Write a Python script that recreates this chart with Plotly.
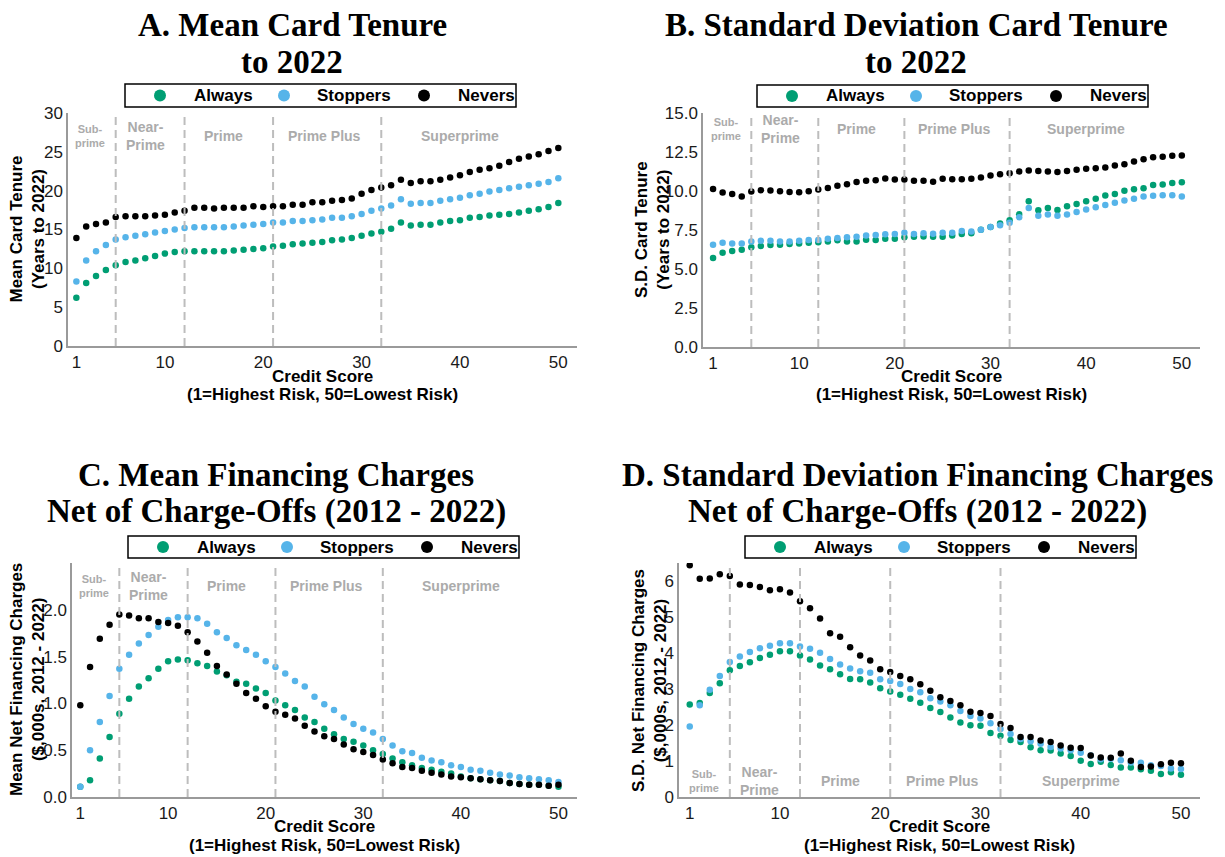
import plotly.graph_objects as go

# ---------------- data ----------------
credit_score = list(range(1, 51))
series_names = ["Always", "Stoppers", "Nevers"]
series_colors = ["#009E73", "#56B4E9", "#000000"]

mean_tenure_always = [6.2, 8.1, 9.0, 9.8, 10.4, 10.8, 11.0, 11.3, 11.6, 11.9,
                      12.1, 12.2, 12.2, 12.2, 12.2, 12.2, 12.3, 12.4, 12.5, 12.6,
                      12.8, 12.9, 13.1, 13.2, 13.3, 13.4, 13.6, 13.7, 13.9, 14.2,
                      14.5, 14.7, 15.1, 15.9, 15.5, 15.6, 15.6, 15.9, 16.1, 16.2,
                      16.5, 16.6, 16.8, 16.9, 17.0, 17.2, 17.4, 17.6, 17.9, 18.4]
mean_tenure_stoppers = [8.3, 11.0, 12.2, 13.0, 13.7, 14.0, 14.2, 14.4, 14.6, 14.8,
                        15.0, 15.2, 15.3, 15.3, 15.3, 15.3, 15.4, 15.5, 15.6, 15.7,
                        15.9, 15.9, 16.1, 16.1, 16.2, 16.3, 16.5, 16.5, 16.7, 17.0,
                        17.4, 17.7, 18.1, 18.9, 18.3, 18.4, 18.4, 18.7, 18.9, 19.1,
                        19.4, 19.6, 19.9, 20.1, 20.3, 20.5, 20.7, 20.9, 21.1, 21.6]
mean_tenure_nevers = [13.9, 15.4, 15.7, 15.9, 16.6, 16.7, 16.7, 16.7, 16.8, 16.9,
                      17.2, 17.4, 17.8, 17.8, 17.7, 17.8, 17.8, 17.8, 18.0, 17.9,
                      18.0, 18.0, 18.2, 18.2, 18.5, 18.5, 18.7, 18.8, 19.0, 19.6,
                      20.1, 20.4, 20.7, 21.4, 21.0, 21.2, 21.2, 21.4, 21.7, 22.0,
                      22.4, 22.7, 22.9, 23.2, 23.7, 24.1, 24.4, 24.7, 25.1, 25.5]

sd_tenure_always = [5.70, 6.04, 6.15, 6.24, 6.39, 6.47, 6.54, 6.56, 6.60, 6.64,
                    6.69, 6.71, 6.77, 6.84, 6.77, 6.77, 6.88, 6.86, 6.94, 6.94,
                    7.03, 7.07, 7.09, 7.07, 7.07, 7.14, 7.24, 7.29, 7.52, 7.69,
                    7.91, 8.12, 8.51, 9.34, 8.76, 8.91, 8.79, 9.02, 9.17, 9.34,
                    9.51, 9.71, 9.81, 10.01, 10.11, 10.18, 10.39, 10.41, 10.52, 10.56]
sd_tenure_stoppers = [6.56, 6.69, 6.64, 6.64, 6.77, 6.81, 6.81, 6.77, 6.77, 6.81,
                      6.86, 6.86, 6.94, 6.99, 7.03, 7.07, 7.14, 7.18, 7.22, 7.24,
                      7.33, 7.24, 7.29, 7.26, 7.33, 7.33, 7.43, 7.41, 7.52, 7.69,
                      7.80, 7.97, 8.31, 8.91, 8.42, 8.49, 8.42, 8.49, 8.66, 8.81,
                      8.96, 9.11, 9.24, 9.39, 9.51, 9.64, 9.69, 9.73, 9.73, 9.64]
sd_tenure_nevers = [10.13, 9.90, 9.81, 9.64, 9.96, 10.05, 10.03, 9.98, 9.94, 9.92,
                    9.98, 10.09, 10.20, 10.33, 10.43, 10.58, 10.65, 10.69, 10.80, 10.73,
                    10.73, 10.65, 10.65, 10.60, 10.78, 10.76, 10.76, 10.78, 10.86, 10.99,
                    11.08, 11.14, 11.25, 11.31, 11.29, 11.25, 11.21, 11.29, 11.36, 11.42,
                    11.46, 11.50, 11.63, 11.72, 11.89, 12.04, 12.17, 12.19, 12.26, 12.28]

mean_fin_always = [0.11, 0.18, 0.41, 0.64, 0.89, 1.05, 1.18, 1.27, 1.37, 1.45,
                   1.47, 1.46, 1.43, 1.40, 1.34, 1.30, 1.23, 1.21, 1.16, 1.11,
                   1.03, 0.98, 0.93, 0.85, 0.80, 0.73, 0.67, 0.62, 0.59, 0.55,
                   0.50, 0.46, 0.41, 0.37, 0.34, 0.31, 0.29, 0.27, 0.25, 0.22,
                   0.20, 0.19, 0.18, 0.17, 0.15, 0.14, 0.13, 0.13, 0.12, 0.11]
mean_fin_stoppers = [0.11, 0.50, 0.80, 1.08, 1.37, 1.52, 1.64, 1.73, 1.82, 1.89,
                     1.92, 1.92, 1.91, 1.85, 1.76, 1.70, 1.62, 1.57, 1.52, 1.45,
                     1.39, 1.32, 1.24, 1.18, 1.07, 0.99, 0.93, 0.85, 0.78, 0.73,
                     0.69, 0.62, 0.55, 0.49, 0.47, 0.42, 0.39, 0.37, 0.34, 0.32,
                     0.29, 0.28, 0.26, 0.24, 0.23, 0.21, 0.20, 0.19, 0.18, 0.16]
mean_fin_nevers = [0.98, 1.39, 1.69, 1.84, 1.95, 1.94, 1.91, 1.91, 1.87, 1.86,
                   1.83, 1.76, 1.66, 1.54, 1.40, 1.31, 1.21, 1.11, 1.05, 0.97,
                   0.91, 0.88, 0.84, 0.76, 0.70, 0.65, 0.62, 0.56, 0.51, 0.48,
                   0.45, 0.40, 0.36, 0.32, 0.31, 0.28, 0.26, 0.24, 0.22, 0.21,
                   0.20, 0.19, 0.18, 0.17, 0.15, 0.14, 0.13, 0.13, 0.12, 0.13]

sd_fin_always = [2.57, 2.61, 2.89, 3.16, 3.52, 3.64, 3.74, 3.86, 3.95, 4.05,
                 4.05, 3.93, 3.82, 3.65, 3.55, 3.41, 3.28, 3.27, 3.18, 3.02,
                 2.93, 2.84, 2.73, 2.62, 2.47, 2.36, 2.21, 2.07, 1.99, 1.98,
                 1.78, 1.70, 1.58, 1.53, 1.38, 1.30, 1.29, 1.21, 1.14, 1.01,
                 0.92, 0.98, 0.89, 0.82, 0.82, 0.77, 0.73, 0.64, 0.69, 0.62]
sd_fin_stoppers = [1.96, 2.55, 2.98, 3.36, 3.75, 3.90, 4.03, 4.13, 4.20, 4.27,
                   4.27, 4.18, 4.12, 4.01, 3.83, 3.68, 3.57, 3.49, 3.45, 3.27,
                   3.22, 3.14, 3.00, 2.91, 2.74, 2.65, 2.55, 2.39, 2.25, 2.18,
                   2.05, 1.89, 1.75, 1.61, 1.55, 1.48, 1.39, 1.35, 1.30, 1.23,
                   1.15, 1.05, 1.06, 1.02, 0.96, 0.95, 0.88, 0.86, 0.79, 0.78]
sd_fin_nevers = [6.44, 6.06, 6.07, 6.19, 6.14, 5.90, 5.89, 5.83, 5.74, 5.77,
                 5.68, 5.44, 5.24, 4.96, 4.55, 4.45, 4.16, 3.93, 3.79, 3.55,
                 3.47, 3.36, 3.27, 3.13, 2.95, 2.77, 2.67, 2.55, 2.37, 2.33,
                 2.25, 2.03, 1.92, 1.67, 1.67, 1.57, 1.53, 1.43, 1.37, 1.36,
                 1.15, 1.10, 1.09, 1.21, 1.01, 0.83, 0.85, 0.91, 0.95, 0.94]

x_tickvals = [1, 10, 20, 30, 40, 50]
segment_bounds = [5, 12, 21, 32]
segment_labels = ["Sub-<br>prime", "Near-<br>Prime", "Prime", "Prime Plus", "Superprime"]
segment_label_x = [2.4, 8.0, 16.0, 26.2, 40.0]

panel_titles = [("A. Mean Card Tenure", "to 2022"),
                ("B. Standard Deviation Card Tenure", "to 2022"),
                ("C. Mean Financing Charges", "Net of Charge-Offs (2012 - 2022)"),
                ("D. Standard Deviation Financing Charges", "Net of Charge-Offs (2012 - 2022)")]
y_titles = ["Mean Card Tenure<br>(Years to 2022)",
            "S.D. Card Tenure<br>(Years to 2022)",
            "Mean Net Financing Charges<br>($,000s, 2012 - 2022)",
            "S.D. Net Financing Charges<br>($,000s, 2012 - 2022)"]
x_title_lines = ["Credit Score", "(1=Highest Risk, 50=Lowest Risk)"]
y_tickvals = [[0, 5, 10, 15, 20, 25, 30],
              [0, 2.5, 5, 7.5, 10, 12.5, 15],
              [0, 0.5, 1.0, 1.5, 2.0],
              [0, 1, 2, 3, 4, 5, 6]]
y_ticktext = [["0", "5", "10", "15", "20", "25", "30"],
              ["0.0", "2.5", "5.0", "7.5", "10.0", "12.5", "15.0"],
              ["0.0", "0.5", "1.0", "1.5", "2.0"],
              ["0", "1", "2", "3", "4", "5", "6"]]
panel_series = [[mean_tenure_always, mean_tenure_stoppers, mean_tenure_nevers],
                [sd_tenure_always, sd_tenure_stoppers, sd_tenure_nevers],
                [mean_fin_always, mean_fin_stoppers, mean_fin_nevers],
                [sd_fin_always, sd_fin_stoppers, sd_fin_nevers]]

# ---------------- layout geometry (screen pixels) ----------------
W, H = 1225, 857
OFF = 8  # page body margin offset of the plot div


def fx(p):
    return (p - OFF) / W


def fy(p):
    return 1 - (p - OFF) / H


geo = [
    dict(dx=(68, 577), dy=(113, 346), xr=[0.15, 51.9], yr=[0, 30], seg_y=27.0,
         tcx=292, leg=(125, 84, 107), ytx=27, title_y=(25, 62), xt_y=(376, 395)),
    dict(dx=(703, 1200), dy=(113, 347), xr=[-0.05, 51.9], yr=[0, 15], seg_y=14.0,
         tcx=916, leg=(757, 85, 107), ytx=652, title_y=(25, 62), xt_y=(376, 395)),
    dict(dx=(72, 577), dy=(563, 797), xr=[0.15, 51.9], yr=[0, 2.5], seg_y=2.25,
         tcx=276, leg=(128, 536, 558), ytx=27, title_y=(475, 512), xt_y=(826, 845)),
    dict(dx=(679, 1200), dy=(563, 797), xr=[-0.07, 51.9], yr=[0, 6.5], seg_y=0.45,
         tcx=917, leg=(745, 536, 558), ytx=649, title_y=(475, 512), xt_y=(826, 845)),
]
LEG_W = 391
LEG_MARK = [35, 159, 299]    # marker centre offsets inside legend box
LEG_TEXT = [67, 190, 331]    # label start offsets inside legend box
LEG_R = 6

SANS = "Liberation Sans"
SERIF = "Liberation Serif"

fig = go.Figure()
layout = dict(width=W, height=H, margin=dict(l=0, r=0, t=0, b=0, autoexpand=False),
              paper_bgcolor="white", plot_bgcolor="white", showlegend=False)
annotations = []
shapes = []

for i, g in enumerate(geo):
    n = "" if i == 0 else str(i + 1)
    xa, ya = "x" + n, "y" + n
    for s in range(3):
        fig.add_trace(go.Scatter(
            x=credit_score, y=panel_series[i][s], mode="markers", name=series_names[s],
            marker=dict(color=series_colors[s], size=6.5, line=dict(width=0)),
            xaxis=xa, yaxis=ya))
    layout["xaxis" + n] = dict(
        domain=[fx(g["dx"][0]), fx(g["dx"][1])], range=g["xr"], anchor=ya,
        tickvals=x_tickvals, showgrid=False, zeroline=False, showline=True,
        linecolor="#9a9a9a", linewidth=1.5, ticks="", automargin=False,
        tickfont=dict(family=SANS, size=17, color="#1a1a1a"))
    layout["yaxis" + n] = dict(
        domain=[fy(g["dy"][1]), fy(g["dy"][0])], range=g["yr"], anchor=xa,
        tickvals=y_tickvals[i], ticktext=y_ticktext[i], showgrid=False, zeroline=False,
        showline=True, linecolor="#9a9a9a", linewidth=1.5, ticks="", automargin=False,
        tickfont=dict(family=SANS, size=17, color="#1a1a1a"))
    # region separators
    for b in segment_bounds:
        shapes.append(dict(type="line", xref=xa, yref=ya + " domain", x0=b, x1=b, y0=0, y1=1,
                           line=dict(color="#bdbdbd", width=2, dash="8px,5px"), layer="above"))
    for k, lab in enumerate(segment_labels):
        annotations.append(dict(
            xref=xa, yref=ya, x=segment_label_x[k], y=g["seg_y"], text=lab, showarrow=False,
            font=dict(family=SANS, size=11 if k == 0 else 14, color="#ababab", weight="bold"),
            align="center"))
    # legend box (drawn manually to match the boxed key)
    lx, lt, lb = g["leg"]
    shapes.append(dict(type="rect", xref="paper", yref="paper",
                       x0=fx(lx), x1=fx(lx + LEG_W), y0=fy(lb), y1=fy(lt),
                       line=dict(color="black", width=1.5), fillcolor="white", layer="above"))
    lcy = (lt + lb) / 2
    for s in range(3):
        cx = lx + LEG_MARK[s]
        shapes.append(dict(type="circle", xref="paper", yref="paper",
                           x0=fx(cx - LEG_R), x1=fx(cx + LEG_R),
                           y0=fy(lcy + LEG_R), y1=fy(lcy - LEG_R),
                           line=dict(width=0), fillcolor=series_colors[s], layer="above"))
        annotations.append(dict(
            xref="paper", yref="paper", x=fx(lx + LEG_TEXT[s]), y=fy(lcy),
            text=series_names[s], showarrow=False, xanchor="left", yanchor="middle",
            font=dict(family=SANS, size=17, color="black", weight="bold")))
    # panel title
    for j, line in enumerate(panel_titles[i]):
        annotations.append(dict(
            xref="paper", yref="paper", x=fx(g["tcx"]), y=fy(g["title_y"][j]), text=line,
            showarrow=False, xanchor="center", yanchor="middle",
            font=dict(family=SERIF, size=33, color="black", weight="bold")))
    # y title
    annotations.append(dict(
        xref="paper", yref="paper", x=fx(g["ytx"]), y=fy((g["dy"][0] + g["dy"][1]) / 2),
        text=y_titles[i], textangle=-90, showarrow=False, xanchor="center", yanchor="middle",
        font=dict(family=SANS, size=17, color="black", weight="bold")))
    # x title
    xc = (g["dx"][0] + g["dx"][1]) / 2
    for j, line in enumerate(x_title_lines):
        annotations.append(dict(
            xref="paper", yref="paper", x=fx(xc), y=fy(g["xt_y"][j]), text=line,
            showarrow=False, xanchor="center", yanchor="middle",
            font=dict(family=SANS, size=17, color="black", weight="bold")))

layout["annotations"] = annotations
layout["shapes"] = shapes
fig.update_layout(**layout)
fig.write_html("out.html")
